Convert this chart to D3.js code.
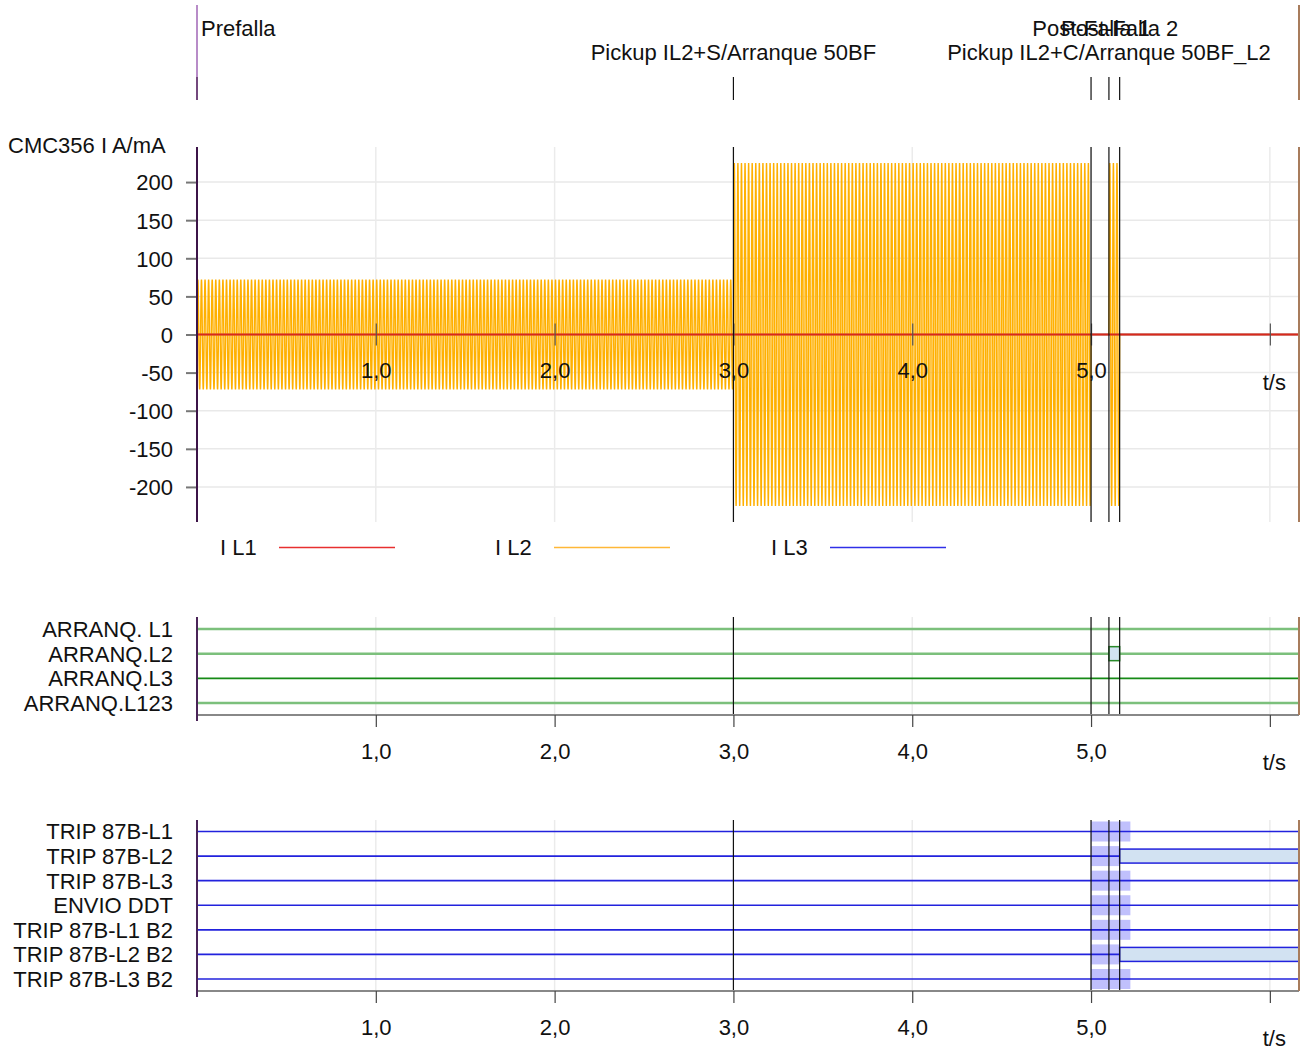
<!DOCTYPE html>
<html>
<head>
<meta charset="utf-8">
<script src="https://cdn.jsdelivr.net/npm/d3@7"></script>
<style>
  html, body { margin: 0; padding: 0; background: #fff; }
  svg { display: block; font-family: "Liberation Sans", Arial, sans-serif; }
</style>
</head>
<body>
<svg id="chart" width="1302" height="1050"></svg>
<script>
// Test sequence states (CMC356 output): start time in s, label and label row
const stateStart = [0, 3.0, 5.0, 5.10, 5.16];
const stateNames = ["Prefalla", "Pickup IL2+S/Arranque 50BF", "Post-Falla 1",
                    "Pickup IL2+C/Arranque 50BF_L2", "Post-Falla 2"];
const stateLabelRow = [0, 1, 0, 1, 0];
const endTime = 6.163;
const mainsFreq = 50;

// Peak current per state, A
const iL1Peak = [0, 0, 0, 0, 0];
const iL2Peak = [72, 225, 0, 225, 0];
const iL3Peak = [0, 0, 0, 0, 0];

const analogNames = ["I L1", "I L2", "I L3"];
const currentTicks = [-200, -150, -100, -50, 0, 50, 100, 150, 200];
const timeTicks = [1, 2, 3, 4, 5, 6];
const timeTickLabels = ["1,0", "2,0", "3,0", "4,0", "5,0", "t/s"];

// Binary inputs: ARRANQ (pickup) signals, on-intervals in s
const arranqNames = ["ARRANQ. L1", "ARRANQ.L2", "ARRANQ.L3", "ARRANQ.L123"];
const arranqOn = [[], [[5.10, 5.16]], [], []];

// Binary inputs: trip signals, on-intervals and expected windows in s
const tripNames = ["TRIP 87B-L1", "TRIP 87B-L2", "TRIP 87B-L3", "ENVIO DDT",
                   "TRIP 87B-L1 B2", "TRIP 87B-L2 B2", "TRIP 87B-L3 B2"];
const tripOn = [[], [[5.16, 6.163]], [], [], [], [[5.16, 6.163]], []];
const tripExpected = [[5.0, 5.22], [5.0, 5.16], [5.0, 5.22], [5.0, 5.22],
                      [5.0, 5.22], [5.0, 5.16], [5.0, 5.22]];

const svg = d3.select("#chart");
const FS = 22;
const FONT = "Liberation Sans, Arial, sans-serif";
const x = d3.scaleLinear().domain([0, endTime]).range([197, 1299]);
const xL = x(0), xR = x(endTime);
const stateEnd = stateStart.slice(1).concat([endTime]);
const lastTick = timeTicks.length - 1;

// ---------- marker band ----------
const band = svg.append("g");
band.append("line").attr("x1", xL).attr("x2", xL).attr("y1", 5).attr("y2", 77)
  .attr("stroke", "#b88cc8").attr("stroke-width", 2);
band.append("line").attr("x1", xL).attr("x2", xL).attr("y1", 77).attr("y2", 100)
  .attr("stroke", "#74487e").attr("stroke-width", 2);
band.append("line").attr("x1", xR).attr("x2", xR).attr("y1", 5).attr("y2", 100)
  .attr("stroke", "#a87c5c").attr("stroke-width", 2);
stateStart.forEach((t, i) => {
  if (i > 0) {
    band.append("line").attr("x1", x(t)).attr("x2", x(t)).attr("y1", 77).attr("y2", 100)
      .attr("stroke", "#111").attr("stroke-width", 1.2);
  }
  const txt = band.append("text").attr("font-size", FS).attr("fill", "#111")
    .attr("y", stateLabelRow[i] === 0 ? 36 : 60).text(stateNames[i]);
  const w = txt.node().getComputedTextLength();
  if (x(t) - w / 2 < xL) txt.attr("x", x(t) + 4);
  else txt.attr("x", x(t) - w / 2);
});

// ---------- analog panel ----------
const aTop = 147, aBot = 522;
const y = d3.scaleLinear().domain([-246, 246]).range([aBot, aTop]);
const ga = svg.append("g");

ga.selectAll("line.hg").data(currentTicks).join("line")
  .attr("x1", xL).attr("x2", xR).attr("y1", d => y(d)).attr("y2", d => y(d))
  .attr("stroke", "#e9e9e9").attr("stroke-width", 1.5);
ga.selectAll("line.vg").data(timeTicks).join("line")
  .attr("x1", d => x(d)).attr("x2", d => x(d)).attr("y1", aTop).attr("y2", aBot)
  .attr("stroke", "#ebebeb").attr("stroke-width", 1.5);

// y axis
const yAxis = ga.append("g").attr("transform", `translate(${xL},0)`)
  .call(d3.axisLeft(y).tickValues(currentTicks).tickSize(11).tickPadding(13)
    .tickFormat(d => d));
yAxis.select(".domain").remove();
yAxis.selectAll(".tick line").attr("stroke", "#777").attr("stroke-width", 2);
yAxis.selectAll(".tick text").attr("font-size", FS).attr("fill", "#111")
  .attr("font-family", FONT).attr("dy", "0.36em");
ga.append("text").attr("x", 8).attr("y", 153).attr("font-size", FS).attr("fill", "#111")
  .text("CMC356 I A/mA");

// waveforms
function waveform(peaks) {
  const pts = [];
  const step = 1 / (mainsFreq * 40);
  stateStart.forEach((t0, i) => {
    const t1 = stateEnd[i];
    const n = Math.round((t1 - t0) / step);
    for (let k = 0; k <= n; k++) {
      const t = t0 + k * step;
      pts.push([t, peaks[i] * Math.sin(2 * Math.PI * mainsFreq * t)]);
    }
  });
  return pts;
}
const line = d3.line().x(d => x(d[0])).y(d => y(d[1]));
const analog = [
  { name: analogNames[2], peaks: iL3Peak, color: "#2a2ae0", w: 1.5 },
  { name: analogNames[1], peaks: iL2Peak, color: "#ffb000", w: 1.4 },
  { name: analogNames[0], peaks: iL1Peak, color: "#d8281c", w: 2 }
];
analog.forEach(s => {
  ga.append("path").attr("d", line(waveform(s.peaks))).attr("fill", "none")
    .attr("stroke", s.color).attr("stroke-width", s.w);
});

// time axis through zero
const xa = ga.append("g").attr("transform", `translate(0,${y(0)})`)
  .call(d3.axisBottom(x).tickValues(timeTicks).tickSize(11).tickPadding(18)
    .tickFormat((d, i) => timeTickLabels[i]));
xa.select(".domain").remove();
xa.selectAll(".tick line").attr("y1", -11).attr("stroke", "#555").attr("stroke-width", 1.2);
xa.selectAll(".tick text").attr("font-size", FS).attr("fill", "#111")
  .attr("font-family", FONT)
  .attr("dy", (d, i) => i === lastTick ? "1.22em" : "0.68em")
  .attr("dx", (d, i) => i === lastTick ? 4 : 0);

// state boundaries
ga.selectAll("line.st").data(stateStart.slice(1)).join("line")
  .attr("x1", d => x(d)).attr("x2", d => x(d)).attr("y1", aTop).attr("y2", aBot)
  .attr("stroke", "#111").attr("stroke-width", 1.2);
ga.append("line").attr("x1", xL).attr("x2", xL).attr("y1", aTop).attr("y2", aBot)
  .attr("stroke", "#3c1448").attr("stroke-width", 2);
ga.append("line").attr("x1", xR).attr("x2", xR).attr("y1", aTop).attr("y2", aBot)
  .attr("stroke", "#a87c5c").attr("stroke-width", 2);

// legend
const legendX = [220, 495, 771];
const legendColors = ["#e83030", "#ffb838", "#3030e8"];
analogNames.forEach((n, i) => {
  ga.append("text").attr("x", legendX[i]).attr("y", 555).attr("font-size", FS)
    .attr("fill", "#111").text(n);
  ga.append("line").attr("x1", legendX[i] + 59).attr("x2", legendX[i] + 175)
    .attr("y1", 547.5).attr("y2", 547.5).attr("stroke", legendColors[i]).attr("stroke-width", 1.5);
});

// ---------- binary panels ----------
function binaryPanel(opts) {
  const g = svg.append("g");
  const yr = d3.scalePoint().domain(opts.names).range([opts.rowTop, opts.rowBot]);
  g.selectAll("line.vg").data(timeTicks).join("line")
    .attr("x1", d => x(d)).attr("x2", d => x(d)).attr("y1", opts.top).attr("y2", opts.axisY)
    .attr("stroke", "#ebebeb").attr("stroke-width", 1.5);

  // expected windows
  if (opts.expected) {
    opts.expected.forEach((w, i) => {
      g.append("rect").attr("x", x(w[0])).attr("width", x(w[1]) - x(w[0]))
        .attr("y", yr(opts.names[i]) - 10).attr("height", 20)
        .attr("fill", "#c0c0fc");
    });
  }
  // signal lines
  opts.names.forEach((n, i) => {
    g.append("line").attr("x1", xL).attr("x2", xR).attr("y1", yr(n)).attr("y2", yr(n))
      .attr("stroke", opts.lineColors[i]).attr("stroke-width", opts.lineWidths[i]);
  });
  // on intervals
  opts.on.forEach((segs, i) => {
    segs.forEach(s => {
      g.append("rect").attr("x", x(s[0])).attr("width", x(s[1]) - x(s[0]))
        .attr("y", yr(opts.names[i]) - 7).attr("height", 14)
        .attr("fill", "#d2e2f2").attr("stroke", opts.boxStroke).attr("stroke-width", 1.5);
    });
  });
  // row labels
  opts.names.forEach(n => {
    g.append("text").attr("x", 173).attr("y", yr(n)).attr("dy", "0.36em")
      .attr("text-anchor", "end").attr("font-size", FS).attr("fill", "#111").text(n);
  });
  // state boundaries
  g.selectAll("line.st").data(stateStart.slice(1)).join("line")
    .attr("x1", d => x(d)).attr("x2", d => x(d)).attr("y1", opts.top).attr("y2", opts.axisY)
    .attr("stroke", "#111").attr("stroke-width", 1.2);

  // time axis
  const ax = g.append("g").attr("transform", `translate(0,${opts.axisY})`)
    .call(d3.axisBottom(x).tickValues(timeTicks).tickSize(12).tickPadding(18)
      .tickFormat((d, i) => timeTickLabels[i]));
  ax.select(".domain").attr("d", `M${xL},0H${xR}`).attr("stroke", "#888").attr("stroke-width", 2);
  ax.selectAll(".tick line").attr("stroke", "#444").attr("stroke-width", 1.2);
  ax.selectAll(".tick text").attr("font-size", FS).attr("fill", "#111")
    .attr("font-family", FONT)
    .attr("dy", (d, i) => i === lastTick ? "1.14em" : "0.62em")
    .attr("dx", (d, i) => i === lastTick ? 4 : 0);

  g.append("line").attr("x1", xL).attr("x2", xL).attr("y1", opts.top).attr("y2", opts.axisY + 6)
    .attr("stroke", "#4a2458").attr("stroke-width", 2);
  g.append("line").attr("x1", xR).attr("x2", xR).attr("y1", opts.top).attr("y2", opts.axisY)
    .attr("stroke", "#a87c5c").attr("stroke-width", 2);
}

binaryPanel({
  names: arranqNames, on: arranqOn, top: 617, axisY: 715, rowTop: 629, rowBot: 703,
  lineColors: ["#7cc07c", "#7cc07c", "#168a16", "#7cc07c"], lineWidths: [2.5, 2.5, 1.6, 2.5],
  boxStroke: "#2a8a2a"
});
binaryPanel({
  names: tripNames, on: tripOn, expected: tripExpected, top: 820, axisY: 991,
  rowTop: 831.5, rowBot: 979,
  lineColors: tripNames.map(() => "#2222dd"), lineWidths: tripNames.map(() => 1.6),
  boxStroke: "#2222dd"
});
</script>
</body>
</html>
